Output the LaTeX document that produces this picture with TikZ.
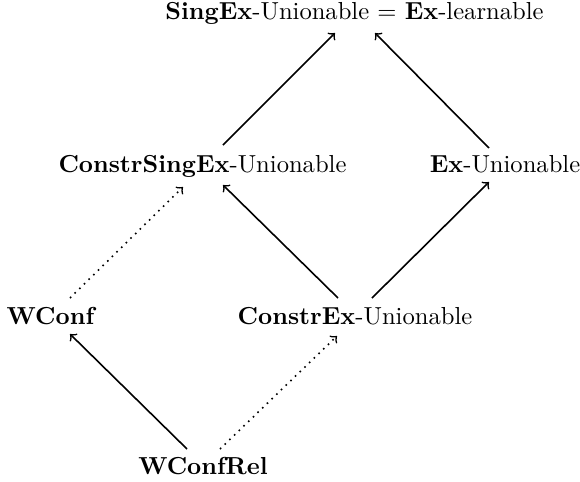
\documentclass[tikz,border=0pt]{standalone}
\begin{document}
\begin{tikzpicture}[x=0.4065pt,y=-0.4065pt,
  lbl/.style={anchor=base},
  arr/.style={->, line width=0.65pt},
  darr/.style={->, dotted, line width=0.65pt}]
\useasboundingbox (0,0) rectangle (580,482);
\node[lbl] (top) at (354.5,19) {\textbf{SingEx}-Unionable $=$ \textbf{Ex}-learnable};
\node[lbl] (csx) at (202.5,172) {\textbf{ConstrSingEx}-Unionable};
\node[lbl] (exu) at (505,172) {\textbf{Ex}-Unionable};
\node[lbl] (wconf) at (51.5,324) {\textbf{WConf}};
\node[lbl] (cex) at (355,324) {\textbf{ConstrEx}-Unionable};
\node[lbl] (wcr) at (203,474) {\textbf{WConfRel}};
\draw[arr] ([shift={(20.5,-27)}]csx.base) -- ([shift={(-19.5,14)}]top.base);
\draw[arr] ([shift={(-16,-24)}]exu.base) -- ([shift={(20.5,14)}]top.base);
\draw[darr] ([shift={(18.5,-26)}]wconf.base) -- ([shift={(-19.5,15)}]csx.base);
\draw[arr] ([shift={(-17,-26)}]cex.base) -- ([shift={(20.5,13)}]csx.base);
\draw[arr] ([shift={(17,-26)}]cex.base) -- ([shift={(-16,10)}]exu.base);
\draw[arr] ([shift={(-16,-25)}]wcr.base) -- ([shift={(18.5,10)}]wconf.base);
\draw[darr] ([shift={(17,-25)}]wcr.base) -- ([shift={(-18,12)}]cex.base);
\end{tikzpicture}
\end{document}
